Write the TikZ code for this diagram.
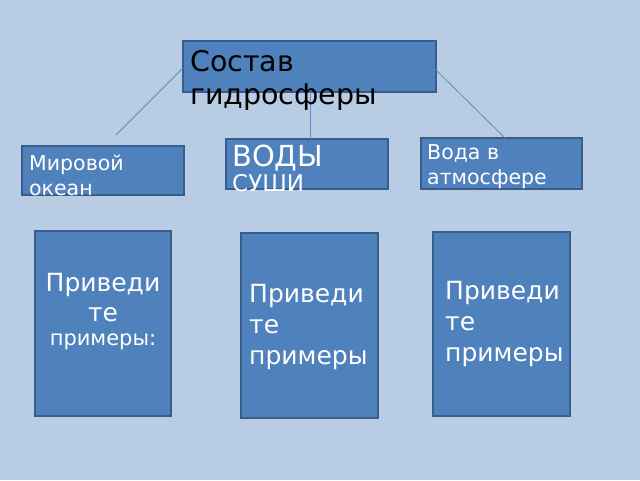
\documentclass[tikz,border=0pt]{standalone}
\usepackage{fontspec}
\setmainfont{DejaVu Sans}
\definecolor{bg}{RGB}{184,204,228}
\definecolor{bx}{RGB}{79,129,189}
\definecolor{bd}{RGB}{56,93,138}
\definecolor{ln}{RGB}{95,140,200}
\begin{document}
\begin{tikzpicture}[x=1pt,y=-1pt,
  box/.style={draw=bd,line width=1.2pt,fill=bx},
  txt/.style={anchor=north west,inner sep=0,align=left,text=white},
  conn/.style={draw=ln,line width=0.8pt}]
\fill[bg] (0,0) rectangle (640,480);
\useasboundingbox (0,0) rectangle (640,480);
\draw[box] (183,41) rectangle (436,92); \coordinate (tl) at (183,68); \coordinate (tb) at (310,92); \coordinate (tr) at (436,70);
\draw[box] (22,146) rectangle (184,195);
\draw[box] (226,139) rectangle (388,189); \coordinate (mt) at (310,139);
\draw[box] (421,138) rectangle (582,189);
\coordinate (lt) at (116,135); \coordinate (rt) at (505,138);
\draw[conn] (tl) -- (lt);
\draw[conn] (tb) -- (mt);
\draw[conn] (tr) -- (rt);
\node[txt,text=black,font=\fontsize{28.5}{33}\selectfont] (t) at (190,50) {Состав\\гидросферы};
\node[txt,font=\fontsize{20.5}{25}\selectfont] (a) at (29,155) {Мировой\\океан};
\node[txt,font=\fontsize{29}{31}\selectfont] (b) at (232,145) {ВОДЫ\\[-6pt]{\fontsize{23}{26}\selectfont СУШИ}};
\node[txt,font=\fontsize{20.5}{25}\selectfont] (c) at (427,144) {Вода в\\атмосфере};
\draw[box] (35,231) rectangle (171,416);
\draw[box] (241,233) rectangle (378,418);
\draw[box] (433,232) rectangle (570,416);
\node[txt,align=center,anchor=center,font=\fontsize{25}{30}\selectfont] (d) at (103,312) {Приведи\\те\\[-6pt]{\fontsize{21}{26}\selectfont примеры:}};
\node[txt,font=\fontsize{25}{31}\selectfont] (e) at (249,284) {Приведи\\те\\примеры};
\node[txt,font=\fontsize{25}{31}\selectfont] (f) at (445,281) {Приведи\\те\\примеры};
\end{tikzpicture}
\end{document}
